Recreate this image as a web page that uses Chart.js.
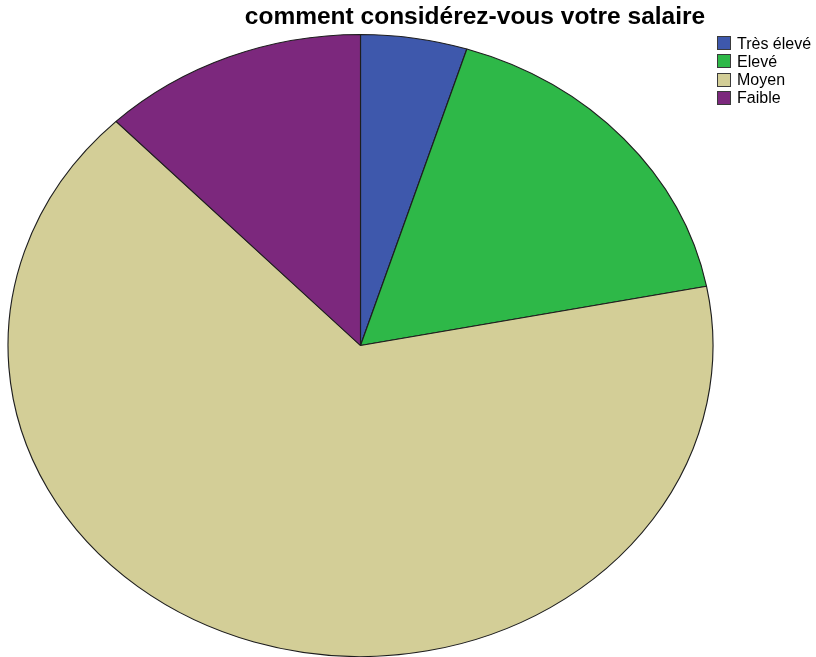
<!DOCTYPE html>
<html lang="fr">
<head>
<meta charset="utf-8">
<title>comment considérez-vous votre salaire</title>
<script src="https://cdn.jsdelivr.net/npm/chart.js@4"></script>
<style>
  body { margin: 0; background: #fff; }
  #wrap { position: relative; width: 816px; height: 657px; overflow: hidden; }
  #chart { position: absolute; left: 0; top: 0; }
  #title {
    position: absolute; left: 175px; width: 600px; top: 5px;
    text-align: center; white-space: nowrap;
    font: bold 23.5px/23.5px "Liberation Sans", Arial, sans-serif; color: #000;
    transform: scaleX(1.043); transform-origin: 50% 50%;
  }
  #legend { position: absolute; left: 717px; top: 34.5px; }
  .item { display: flex; align-items: flex-start; height: 18.3px;
    font: 16px/18.3px "Liberation Sans", Arial, sans-serif; color: #000; white-space: nowrap; }
  .box { width: 12px; height: 12px; border: 1px solid #3a3a3a; margin: 1.5px 6px 0 0; flex: none; }
</style>
</head>
<body>
<div id="wrap">
  <canvas id="chart" width="816" height="657"></canvas>
  <div id="title">comment considérez-vous votre salaire</div>
  <div id="legend"></div>
</div>
<script>
const labels = ["Très élevé", "Elevé", "Moyen", "Faible"];
const counts = [2, 7, 27, 5];
const colors = ["#3E58AC", "#2EB848", "#D3CE97", "#7C287D"];

// the pie is drawn as an ellipse: stretch the arcs horizontally around the centre
const stretchX = 352.5 / 311;
const ellipse = {
  id: "ellipse",
  beforeDatasetsDraw(chart) {
    const arc = chart.getDatasetMeta(0).data[0];
    const ctx = chart.ctx;
    ctx.save();
    ctx.translate(arc.x, arc.y);
    ctx.scale(stretchX, 1);
    ctx.translate(-arc.x, -arc.y);
  },
  afterDatasetsDraw(chart) {
    chart.ctx.restore();
  }
};

new Chart(document.getElementById("chart"), {
  type: "pie",
  data: {
    labels: labels,
    datasets: [{
      data: counts,
      backgroundColor: colors,
      borderColor: "#1e1e1e",
      borderWidth: 1,
      clip: false
    }]
  },
  options: {
    responsive: false,
    animation: false,
    events: [],
    layout: { padding: { top: 34, bottom: 0, left: 0, right: 95 } },
    plugins: {
      legend: { display: false },
      title: { display: false },
      tooltip: { enabled: false }
    }
  },
  plugins: [ellipse]
});

const legendEl = document.getElementById("legend");
labels.forEach((name, i) => {
  const row = document.createElement("div");
  row.className = "item";
  const box = document.createElement("span");
  box.className = "box";
  box.style.background = colors[i];
  row.appendChild(box);
  row.appendChild(document.createTextNode(name));
  legendEl.appendChild(row);
});
</script>
</body>
</html>
